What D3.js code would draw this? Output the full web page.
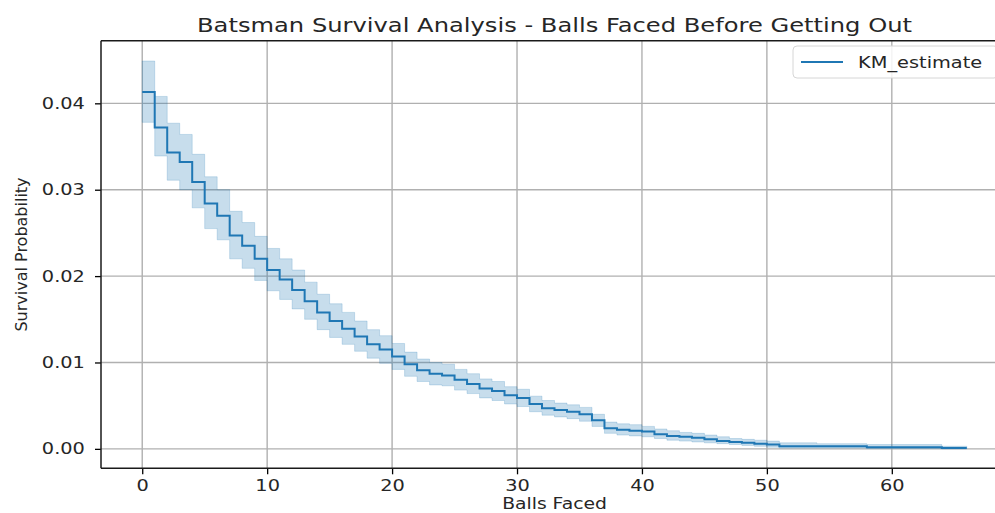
<!DOCTYPE html>
<html>
<head>
<meta charset="utf-8">
<script src="https://cdn.jsdelivr.net/npm/d3@7"></script>
<style>
  body { margin: 0; background: #fff; }
  svg { display: block; }
  text { font-family: "DejaVu Sans", sans-serif; fill: #262626; }
</style>
</head>
<body>
<div id="my-chart"></div>
<script>

// balls faced (event times) and the KM estimate
var balls = d3.range(0, 67);
var survival = [
  0.0413, 0.0372, 0.0343, 0.0332, 0.0309, 0.0284, 0.0270, 0.0247, 0.0235, 0.0220,
  0.0207, 0.0196, 0.0184, 0.0171, 0.0158, 0.0148, 0.0139, 0.0130, 0.0121, 0.0115,
  0.0107, 0.0098, 0.0091, 0.0087, 0.0085, 0.0080, 0.0075, 0.0070, 0.0067, 0.0062,
  0.0059, 0.0052, 0.0047, 0.0045, 0.0043, 0.0040, 0.0033, 0.0024, 0.0022, 0.0021,
  0.0020, 0.0017, 0.0015, 0.0014, 0.0013, 0.0011, 0.0009, 0.0008, 0.0007, 0.0006,
  0.0005, 0.0003, 0.0003, 0.0003, 0.0003, 0.0003, 0.0003, 0.0003, 0.0002, 0.0002,
  0.0002, 0.0002, 0.0002, 0.0002, 0.0001, 0.0001, 0.0001
];
var ciUpper = [
  0.0449, 0.0408, 0.0377, 0.0364, 0.0341, 0.0315, 0.0300, 0.0275, 0.0262, 0.0246,
  0.0232, 0.0220, 0.0207, 0.0193, 0.0179, 0.0168, 0.0158, 0.0148, 0.0138, 0.0131,
  0.0122, 0.0112, 0.0104, 0.0100, 0.0098, 0.0092, 0.0087, 0.0081, 0.0078, 0.0072,
  0.0069, 0.0061, 0.0056, 0.0053, 0.0051, 0.0048, 0.0040, 0.0031, 0.0029, 0.0028,
  0.0026, 0.0023, 0.0021, 0.0019, 0.0018, 0.0016, 0.0014, 0.0012, 0.0011, 0.0010,
  0.0009, 0.0007, 0.0007, 0.0007, 0.0006, 0.0006, 0.0006, 0.0006, 0.0005, 0.0005,
  0.0005, 0.0005, 0.0005, 0.0005, 0.0003, 0.0003, 0.0003
];
var ciLower = [
  0.0378, 0.0339, 0.0311, 0.0300, 0.0279, 0.0255, 0.0242, 0.0220, 0.0209, 0.0195,
  0.0183, 0.0173, 0.0162, 0.0150, 0.0138, 0.0129, 0.0121, 0.0113, 0.0105, 0.0099,
  0.0092, 0.0084, 0.0078, 0.0074, 0.0073, 0.0068, 0.0064, 0.0059, 0.0056, 0.0052,
  0.0049, 0.0043, 0.0039, 0.0037, 0.0035, 0.0032, 0.0026, 0.0018, 0.0016, 0.0015,
  0.0014, 0.0012, 0.0010, 0.0009, 0.0008, 0.0007, 0.0006, 0.0005, 0.0004, 0.0003,
  0.0002, 0.0001, 0.0001, 0.0001, 0.0001, 0.0001, 0.0001, 0.0001, 0.00005, 0.00005,
  0.00005, 0.00005, 0.00005, 0.00005, 0.0000, 0.0000, 0.0000
];
var xTicks = [0, 10, 20, 30, 40, 50, 60];
var yTicks = [0.00, 0.01, 0.02, 0.03, 0.04];

var data = balls.map(function (b, i) {
  return {t: b, s: survival[i], lo: ciLower[i], hi: ciUpper[i]};
});

// plot box (right edge runs off the picture like in the original)
var W = 995, H = 513;
var box = {left: 101, top: 40.7, right: 1008, bottom: 468.3};
var blue = '#1f77b4';
// the original picture is stretched sideways, so text is widened a bit
var stretch = 'scale(1.21,1)';

var svg = d3.select('#my-chart')
    .append('svg')
    .attr('width', W)
    .attr('height', H);

var x = d3.scaleLinear()
    .domain([-3.3, 69.3])
    .range([box.left, box.right]);

var y = d3.scaleLinear()
    .domain([-0.00225, 0.04725])
    .range([box.bottom, box.top]);

// grid
svg.append('g')
    .selectAll('line.vg')
    .data(xTicks)
    .join('line')
    .attr('x1', function (d) { return x(d); })
    .attr('x2', function (d) { return x(d); })
    .attr('y1', box.top)
    .attr('y2', box.bottom)
    .attr('stroke', '#b0b0b0')
    .attr('stroke-width', 1.4);
svg.append('g')
    .selectAll('line.hg')
    .data(yTicks)
    .join('line')
    .attr('x1', box.left)
    .attr('x2', box.right)
    .attr('y1', function (d) { return y(d); })
    .attr('y2', function (d) { return y(d); })
    .attr('stroke', '#b0b0b0')
    .attr('stroke-width', 1.4);

// confidence band
svg.append('path')
    .datum(data)
    .attr('fill', blue)
    .attr('fill-opacity', 0.25)
    .attr('stroke', blue)
    .attr('stroke-opacity', 0.2)
    .attr('stroke-width', 1)
    .attr('d', d3.area()
        .curve(d3.curveStepAfter)
        .x(function (d) { return x(d.t); })
        .y0(function (d) { return y(d.lo); })
        .y1(function (d) { return y(d.hi); })
    );

// KM estimate
svg.append('path')
    .datum(data)
    .attr('fill', 'none')
    .attr('stroke', blue)
    .attr('stroke-width', 2)
    .attr('d', d3.line()
        .curve(d3.curveStepAfter)
        .x(function (d) { return x(d.t); })
        .y(function (d) { return y(d.s); })
    );

// axes
var xAxis = svg.append('g')
    .attr('transform', 'translate(0,' + box.bottom + ')')
    .call(d3.axisBottom(x).tickValues(xTicks).tickSize(6).tickPadding(5)
        .tickFormat(d3.format('d')));
var yAxis = svg.append('g')
    .attr('transform', 'translate(' + box.left + ',0)')
    .call(d3.axisLeft(y).tickValues(yTicks).tickSize(6).tickPadding(7.3)
        .tickFormat(d3.format('.2f')));
[xAxis, yAxis].forEach(function (a) {
  a.select('.domain').remove();
  a.selectAll('line').attr('stroke', '#000').attr('stroke-width', 1.3);
  a.selectAll('text')
      .attr('font-family', '"DejaVu Sans", sans-serif')
      .attr('font-size', 16)
      .attr('fill', '#262626')
      .attr('transform', stretch);
});

// spines
svg.append('line')
    .attr('x1', box.left).attr('x2', box.left)
    .attr('y1', box.top).attr('y2', box.bottom)
    .attr('stroke', '#1a1a1a').attr('stroke-width', 1.5);
svg.append('line')
    .attr('x1', box.left).attr('x2', box.right)
    .attr('y1', box.bottom).attr('y2', box.bottom)
    .attr('stroke', '#1a1a1a').attr('stroke-width', 1.5);
svg.append('line')
    .attr('x1', box.left).attr('x2', box.right)
    .attr('y1', box.top).attr('y2', box.top)
    .attr('stroke', '#1a1a1a').attr('stroke-width', 1.5);

// titles
svg.append('text')
    .attr('transform', 'translate(' + ((box.left + box.right) / 2) + ',32) ' + stretch)
    .attr('text-anchor', 'middle')
    .attr('font-size', 20)
    .text('Batsman Survival Analysis - Balls Faced Before Getting Out');

svg.append('text')
    .attr('transform', 'translate(' + ((box.left + box.right) / 2) + ',509) ' + stretch)
    .attr('text-anchor', 'middle')
    .attr('font-size', 15.5)
    .text('Balls Faced');

svg.append('text')
    .attr('transform', 'translate(27,' + ((box.top + box.bottom) / 2) + ') rotate(-90)')
    .attr('text-anchor', 'middle')
    .attr('font-family', '"DejaVu Sans Condensed", "DejaVu Sans", sans-serif')
    .attr('font-size', 16)
    .text('Survival Probability');

// legend
var leg = svg.append('g').attr('transform', 'translate(793,46)');
leg.append('rect')
    .attr('width', 205).attr('height', 32).attr('rx', 4)
    .attr('fill', '#fff').attr('fill-opacity', 0.85)
    .attr('stroke', '#d6d6d6');
leg.append('line')
    .attr('x1', 8).attr('x2', 50).attr('y1', 16).attr('y2', 16)
    .attr('stroke', blue).attr('stroke-width', 2);
leg.append('text')
    .attr('transform', 'translate(65,22) ' + stretch)
    .attr('font-size', 16)
    .text('KM_estimate');

</script>
</body>
</html>
